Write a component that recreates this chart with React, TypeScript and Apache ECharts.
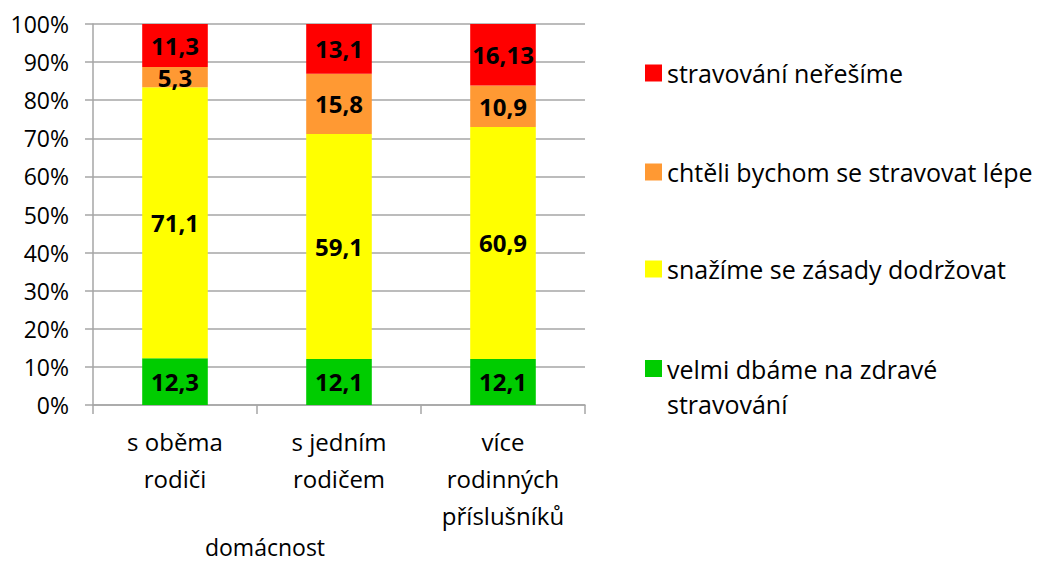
import React, { useEffect, useRef } from "react";
import * as echarts from "echarts";

const categories = ["s oběma\nrodiči", "s jedním\nrodičem", "více\nrodinných\npříslušníků"];
const seriesNames = [
  "velmi dbáme na zdravé stravování",
  "snažíme se zásady dodržovat",
  "chtěli bychom se stravovat lépe",
  "stravování neřešíme",
];
const greenValues = [12.3, 12.1, 12.1];
const yellowValues = [71.1, 59.1, 60.9];
const orangeValues = [5.3, 15.8, 10.9];
const redValues = [11.3, 13.1, 16.13];
const colors = ["#00CC00", "#FFFF00", "#FF9933", "#FF0000"];
const yTicks = [0, 10, 20, 30, 40, 50, 60, 70, 80, 90, 100];

const FONT = "Open Sans";

export default function App() {
  const ref = useRef<HTMLDivElement>(null);
  useEffect(() => {
    if (!ref.current) return;
    const chart = echarts.init(ref.current, undefined, { renderer: "svg" });
    const all = [greenValues, yellowValues, orangeValues, redValues];
    const totals = categories.map((_, i) => all.reduce((s, a) => s + a[i], 0));
    const series = all.map((vals, k) => ({
      name: seriesNames[k],
      type: "bar",
      stack: "total",
      barWidth: "40%",
      itemStyle: { color: colors[k] },
      data: vals.map((v, i) => ({ value: (v / totals[i]) * 100, raw: v })),
      label: {
        show: true,
        position: "inside",
        color: "#000",
        fontFamily: FONT,
        fontWeight: "bold",
        fontSize: 24,
        formatter: (p: any) => String(p.data.raw).replace(".", ","),
      },
    }));
    const legendTops = [53, 152, 249, 316];
    const legendOrder = [3, 2, 1, 0];
    const legends = legendOrder.map((k, j) => ({
      data: [seriesNames[k]],
      left: 640,
      top: legendTops[j],
      itemWidth: 17,
      itemHeight: 17,
      itemGap: 0,
      icon: "rect",
      selectedMode: false,
      formatter: (name: string) =>
        name === seriesNames[0] ? "{a|velmi dbáme na zdravé\nstravování}" : name,
      textStyle: {
        fontFamily: FONT,
        fontSize: 25,
        lineHeight: 30,
        color: "#000",
        rich: {
          a: {
            fontFamily: FONT,
            fontSize: 25,
            color: "#000",
            lineHeight: 35,
            padding: [35, 0, 0, 0],
          },
        },
      },
    }));
    chart.setOption({
      animation: false,
      backgroundColor: "#fff",
      grid: { left: 93, right: 458, top: 24, bottom: 160, containLabel: false },
      legend: legends,
      xAxis: {
        type: "category",
        data: categories,
        axisLine: { show: true, lineStyle: { color: "#a6a6a6", width: 1.5 } },
        axisTick: { show: true, length: 9, lineStyle: { color: "#a6a6a6", width: 1.5 } },
        axisLabel: {
          color: "#000",
          fontFamily: FONT,
          fontSize: 24,
          lineHeight: 37,
          margin: 18,
          interval: 0,
        },
      },
      yAxis: {
        type: "value",
        min: 0,
        max: 100,
        interval: 10,
        axisLine: { show: true, lineStyle: { color: "#a6a6a6", width: 1.5 } },
        axisTick: { show: true, length: 8, lineStyle: { color: "#a6a6a6", width: 1.5 } },
        splitLine: { show: true, lineStyle: { color: "#a6a6a6", width: 1.5 } },
        axisLabel: {
          color: "#000",
          fontFamily: FONT,
          fontSize: 23,
          margin: 24,
          formatter: (v: number) => (yTicks.includes(v) ? v + "%" : ""),
        },
      },
      graphic: [
        {
          type: "text",
          x: 265,
          y: 547,
          style: {
            text: "domácnost",
            fontFamily: FONT,
            fontSize: 23,
            fill: "#000",
            align: "center",
            verticalAlign: "middle",
          },
        },
      ],
      series,
    });
    return () => chart.dispose();
  }, []);
  return <div ref={ref} style={{ width: 1043, height: 565, margin: -8 }} />;
}
